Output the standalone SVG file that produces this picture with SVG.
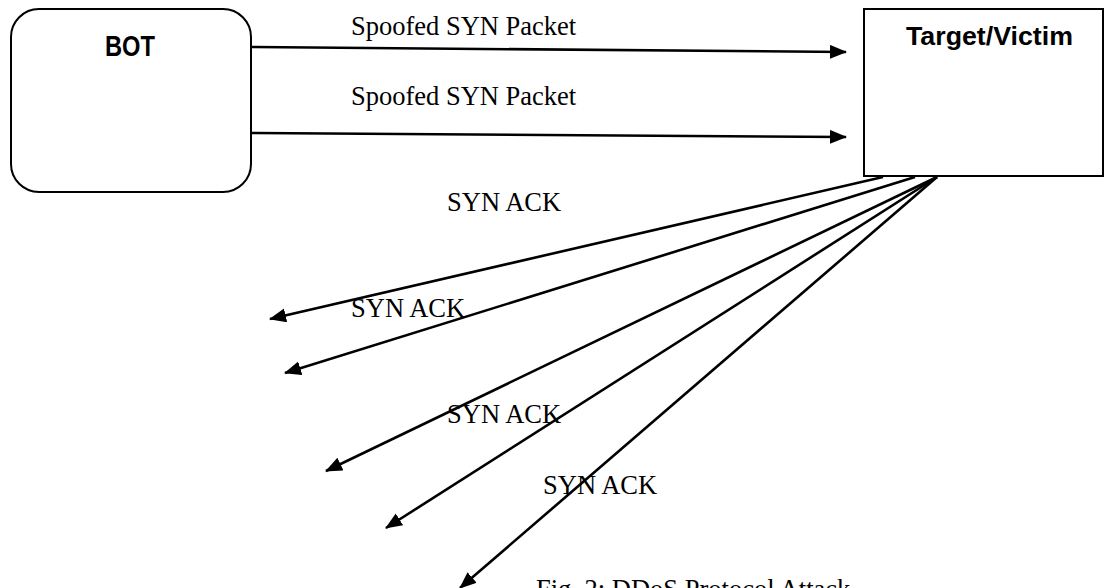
<svg xmlns="http://www.w3.org/2000/svg" width="1105" height="588" viewBox="0 0 1105 588">
  <style>
    .box { fill: #ffffff; stroke: #000000; stroke-width: 2; }
    .title { font-family: "Liberation Sans", Arial, sans-serif; font-weight: bold; fill: #000000; }
    .lbl { font-family: "Liberation Serif", "Times New Roman", serif; font-size: 26.5px; fill: #000000; }
    .conn { stroke: #000000; stroke-width: 2.6; fill: none; marker-end: url(#arrow); }
  </style>
  <defs>
    <marker id="arrow" markerUnits="userSpaceOnUse" markerWidth="18" markerHeight="15" refX="16" refY="7" orient="auto">
      <path d="M0,0 L17,7 L0,14 Z" fill="#000000"/>
    </marker>
  </defs>
  <rect width="1105" height="588" fill="#ffffff"/>

  <g id="bot">
    <rect class="box" x="11" y="9" width="240" height="183" rx="28" ry="28"/>
    <text class="title" x="105" y="56" font-size="29" textLength="50" lengthAdjust="spacingAndGlyphs">BOT</text>
  </g>

  <g id="target">
    <rect class="box" x="864" y="9" width="239" height="167"/>
    <text class="title" x="906" y="45" font-size="25" textLength="167" lengthAdjust="spacingAndGlyphs">Target/Victim</text>
  </g>

  <g id="connectors">
    <line class="conn" x1="251" y1="47" x2="846" y2="52"/>
    <line class="conn" x1="251" y1="133" x2="846" y2="137"/>
    <line class="conn" x1="883" y1="177" x2="270" y2="319"/>
    <line class="conn" x1="915" y1="177" x2="285" y2="373"/>
    <line class="conn" x1="937" y1="177" x2="326" y2="471"/>
    <line class="conn" x1="937" y1="177" x2="386" y2="528"/>
    <line class="conn" x1="937" y1="177" x2="460" y2="588"/>
  </g>

  <g id="labels">
    <text class="lbl" x="351" y="35">Spoofed SYN Packet</text>
    <text class="lbl" x="351" y="105">Spoofed SYN Packet</text>
    <text class="lbl" x="447" y="211">SYN ACK</text>
    <text class="lbl" x="351" y="317">SYN ACK</text>
    <text class="lbl" x="447" y="423">SYN ACK</text>
    <text class="lbl" x="543" y="494">SYN ACK</text>
    <text class="lbl" x="536" y="598">Fig. 2: DDoS Protocol Attack</text>
  </g>
</svg>
